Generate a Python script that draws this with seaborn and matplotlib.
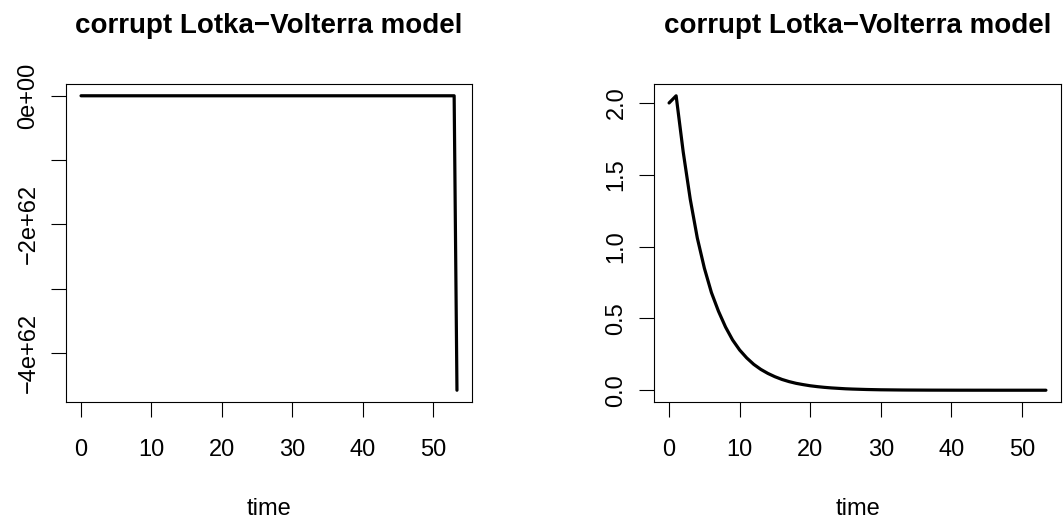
import numpy as np
import pandas as pd
import seaborn as sns
import matplotlib.pyplot as plt

# prey (left) and predator (right) trajectories
time_left = list(range(0, 54)) + [53.4]
prey = [0.0] * 54 + [-4.58e62]

time_right = list(range(0, 54)) + [53.4]
predator = [2.00, 2.05, 1.66, 1.33, 1.06, 0.85, 0.68, 0.55, 0.44, 0.35,
            0.28, 0.225, 0.18, 0.145, 0.117, 0.094, 0.075, 0.060, 0.048, 0.039,
            0.031, 0.025, 0.020, 0.016, 0.013, 0.010, 0.008, 0.0065, 0.005, 0.004,
            0.003, 0.0025, 0.002, 0.0015, 0.0012, 0.001, 0.0008, 0.0006, 0.0005, 0.0004,
            0.0003, 0.0002, 0.0002, 0.0001, 0.0001, 0.0001, 0.0, 0.0, 0.0, 0.0,
            0.0, 0.0, 0.0, 0.0, 0.0]

left_yticks = [0, -1e62, -2e62, -3e62, -4e62]
left_ylabels = ['0e+00', '', '\u22122e+62', '', '\u22124e+62']
right_yticks = [0.0, 0.5, 1.0, 1.5, 2.0]
right_ylabels = ['0.0', '0.5', '1.0', '1.5', '2.0']
xticks = [0, 10, 20, 30, 40, 50]

sns.set_style('white')
plt.rcParams['font.family'] = ['Liberation Sans', 'DejaVu Sans']
plt.rcParams['text.color'] = 'black'

fig = plt.figure(figsize=(10.63, 5.24), dpi=100)
ax1 = fig.add_axes([66 / 1063, 122 / 524, 406 / 1063, 318 / 524])
ax2 = fig.add_axes([654 / 1063, 122 / 524, 407 / 1063, 318 / 524])

df_l = pd.DataFrame({'time': time_left, 'value': prey})
df_r = pd.DataFrame({'time': time_right, 'value': predator})


def pad(lo, hi):
    r = hi - lo
    return lo - 0.04 * r, hi + 0.04 * r


for ax, df, yt, yl in [(ax1, df_l, left_yticks, left_ylabels),
                       (ax2, df_r, right_yticks, right_ylabels)]:
    sns.lineplot(data=df, x='time', y='value', ax=ax, color='black',
                 linewidth=2.3, estimator=None, sort=False)
    ax.set_xlim(*pad(df['time'].min(), df['time'].max()))
    ax.set_ylim(*pad(df['value'].min(), df['value'].max()))
    ax.set_xticks(xticks)
    ax.set_xticklabels([str(t) for t in xticks])
    ax.set_yticks(yt)
    ax.set_yticklabels(yl, rotation=90, va='center')
    ax.tick_params(axis='both', direction='out', length=11, width=0.8,
                   labelsize=17, color='black', labelcolor='black',
                   bottom=True, left=True)
    ax.tick_params(axis='x', pad=16)
    ax.tick_params(axis='y', pad=8)
    for s in ax.spines.values():
        s.set_color('black')
        s.set_linewidth(0.8)
    ax.set_xlabel('time', fontsize=17, labelpad=26, color='black')
    ax.set_ylabel('')
    ax.set_title('corrupt Lotka\u2212Volterra model', fontsize=20,
                 fontweight='bold', pad=37, color='black')

fig.savefig('out.png', dpi=100)
